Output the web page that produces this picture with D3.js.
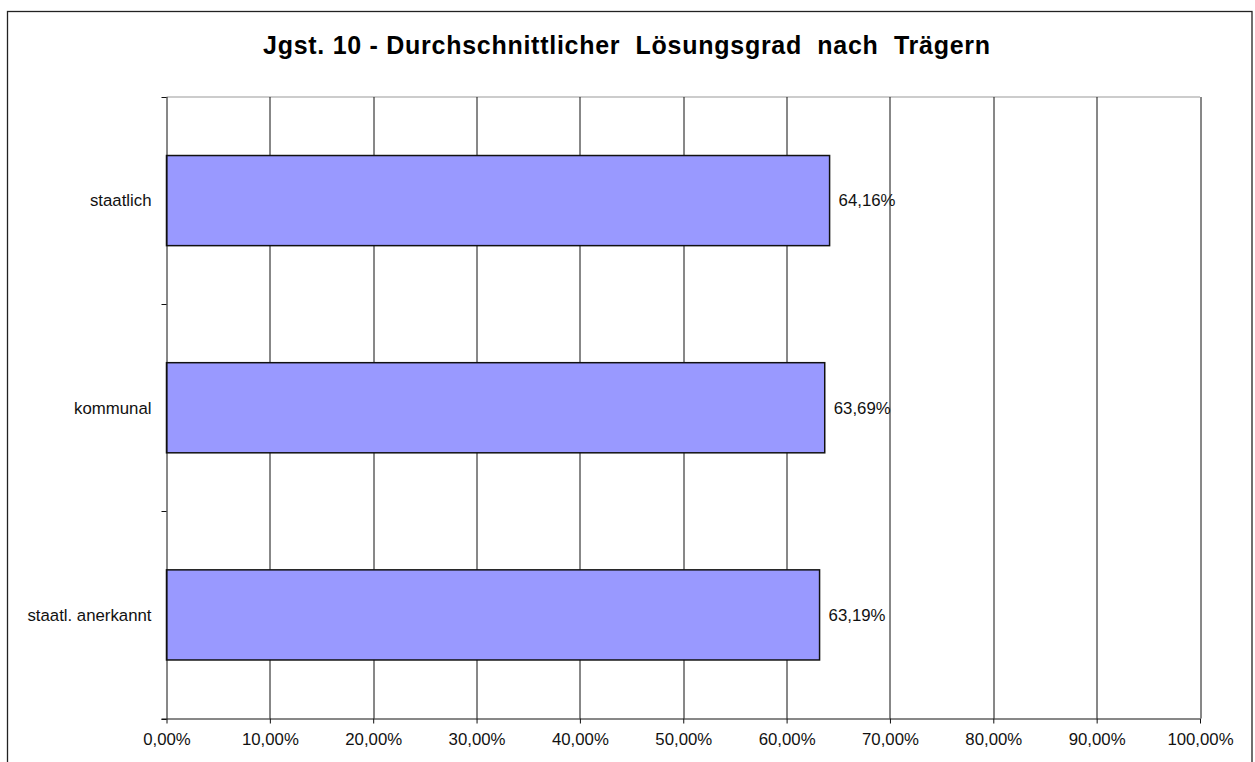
<!DOCTYPE html>
<html>
<head>
<meta charset="utf-8">
<script src="https://cdn.jsdelivr.net/npm/d3@7"></script>
<style>
  body { margin: 0; background: #fff; }
  text { font-family: Arial, "Liberation Sans", sans-serif; }
</style>
</head>
<body>
<div id="canvas"></div>
<script>
const categories = ["staatlich", "kommunal", "staatl. anerkannt"];
const values = [64.16, 63.69, 63.19];
const tickValues = [0, 10, 20, 30, 40, 50, 60, 70, 80, 90, 100];
const title = "Jgst. 10 - Durchschnittlicher  Lösungsgrad  nach  Trägern";

const width = 1255;
const height = 762;
const margin = { top: 97, left: 166.5, bottom: 43.5, right: 55 };
const iwidth = width - margin.left - margin.right;
const iheight = height - margin.top - margin.bottom;
const fs = "16.8px";

const fmt = (v) => v.toFixed(2).replace(".", ",") + "%";

const svg = d3.select("#canvas").append("svg")
  .attr("width", width)
  .attr("height", height);

// outer frame
svg.append("rect")
  .attr("x", 7.5).attr("y", 11.5)
  .attr("width", 1244.5).attr("height", 800)
  .attr("fill", "none").attr("stroke", "#222").attr("stroke-width", 1.3);

svg.append("text")
  .attr("x", 263).attr("y", 54)
  .attr("textLength", 727).attr("lengthAdjust", "spacing")
  .style("font-size", "25px").style("font-weight", "bold")
  .attr("xml:space", "preserve")
  .text(title);

const g = svg.append("g")
  .attr("transform", `translate(${margin.left},${margin.top})`);

const x = d3.scaleLinear().domain([0, 100]).range([0, iwidth]);
const y = d3.scaleBand().domain(categories).range([0, iheight]).paddingInner(0.565).paddingOuter(0.2825);
const yb = d3.scaleBand().domain(categories).range([0, iheight]);

// plot area top border
g.append("line")
  .attr("x1", 0).attr("x2", iwidth).attr("y1", 0).attr("y2", 0)
  .attr("stroke", "#999").attr("stroke-width", 1);

// gridlines
g.selectAll(".grid").data(tickValues.slice(1)).enter().append("line")
  .attr("class", "grid")
  .attr("x1", (d) => Math.round(x(d)) + 0.5).attr("x2", (d) => Math.round(x(d)) + 0.5)
  .attr("y1", 0).attr("y2", iheight)
  .attr("stroke", "#111").attr("stroke-width", 1);

// bars
g.selectAll(".bar").data(values).enter().append("rect")
  .attr("class", "bar")
  .attr("x", 0)
  .attr("y", (d, i) => y(categories[i]))
  .attr("width", (d) => x(d))
  .attr("height", y.bandwidth())
  .attr("fill", "#9999FF")
  .attr("stroke", "#111").attr("stroke-width", 1.5);

// value labels
g.selectAll(".val").data(values).enter().append("text")
  .attr("class", "val")
  .attr("x", (d) => x(d) + 9)
  .attr("y", (d, i) => y(categories[i]) + y.bandwidth() / 2)
  .attr("dy", "0.35em")
  .style("font-size", fs).attr("fill", "#111")
  .text((d) => fmt(d));

// x axis
const xAxis = g.append("g")
  .attr("transform", `translate(0,${iheight})`)
  .call(d3.axisBottom(x).tickValues(tickValues).tickSize(5).tickSizeOuter(0).tickFormat(fmt));
xAxis.select(".domain").attr("d", `M-5,0.5H${iwidth}`).attr("stroke", "#111");
xAxis.selectAll(".tick line").attr("stroke", "#111");
xAxis.selectAll(".tick text").style("font-size", fs).attr("fill", "#111").attr("dy", "1.08em");

// y axis with boundary ticks
const yAxis = g.append("g");
yAxis.append("line")
  .attr("x1", 0.5).attr("x2", 0.5).attr("y1", 0).attr("y2", iheight)
  .attr("stroke", "#111");
const bounds = categories.map((c) => yb(c)).concat([iheight]);
yAxis.selectAll(".yt").data(bounds).enter().append("line")
  .attr("class", "yt")
  .attr("x1", -5).attr("x2", 0)
  .attr("y1", (d) => Math.round(d) + 0.5).attr("y2", (d) => Math.round(d) + 0.5)
  .attr("stroke", "#111");
yAxis.selectAll(".yl").data(categories).enter().append("text")
  .attr("class", "yl")
  .attr("x", -15)
  .attr("y", (d) => yb(d) + yb.bandwidth() / 2)
  .attr("dy", "0.35em")
  .attr("text-anchor", "end")
  .style("font-size", fs).attr("fill", "#111")
  .text((d) => d);
</script>
</body>
</html>
